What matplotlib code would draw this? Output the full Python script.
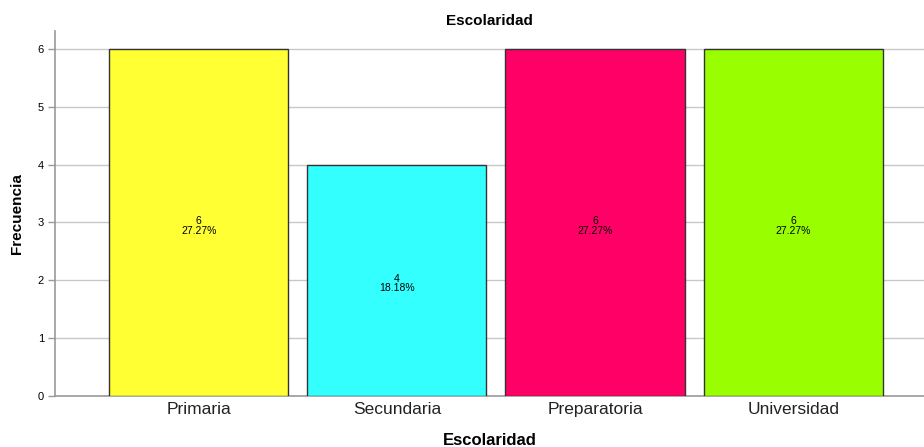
import matplotlib.pyplot as plt

categories = ["Primaria", "Secundaria", "Preparatoria", "Universidad"]
counts = [6, 4, 6, 6]
percents = ["27.27%", "18.18%", "27.27%", "27.27%"]
colors = ["#FFFF33", "#33FFFF", "#FF0066", "#99FF00"]

plt.rcParams["font.family"] = ["Liberation Sans", "DejaVu Sans"]

fig = plt.figure(figsize=(9.24, 4.47), dpi=100)
ax = fig.add_axes([0.0595, 0.114, 0.9405, 0.8166])

x = range(len(categories))
ax.bar(x, counts, width=0.904, color=colors, edgecolor="#333333", linewidth=1.0, zorder=3)
# count + percent label in the middle of each bar
for i, (c, p) in enumerate(zip(counts, percents)):
    ax.text(i, c / 2 - 0.06, f"{c}\n{p}", ha="center", va="center", fontsize=7.5,
            linespacing=0.9, zorder=4)

ax.set_xlim(-0.725, 3.66)
ax.set_ylim(0, 6.31)
ax.set_yticks(range(7))
ax.set_xticks(list(x))
ax.set_xticklabels(categories, fontsize=12.5, color="#222222")
ax.tick_params(axis="x", length=0, pad=4)
ax.tick_params(axis="y", labelsize=8, length=5, color="#999999", width=1, pad=3)
ax.grid(axis="y", color="#C8C8C8", linewidth=1, zorder=0)

for s in ["top", "right"]:
    ax.spines[s].set_visible(False)
for s in ["left", "bottom"]:
    ax.spines[s].set_color("#999999")
    ax.spines[s].set_linewidth(1.2)

ax.set_title("Escolaridad", fontsize=11, fontweight="bold", pad=4)
ax.set_xlabel("Escolaridad", fontsize=12, fontweight="bold", labelpad=12)
ax.set_ylabel("Frecuencia", fontsize=11, fontweight="bold", labelpad=10)

fig.savefig("out.png", dpi=100)
